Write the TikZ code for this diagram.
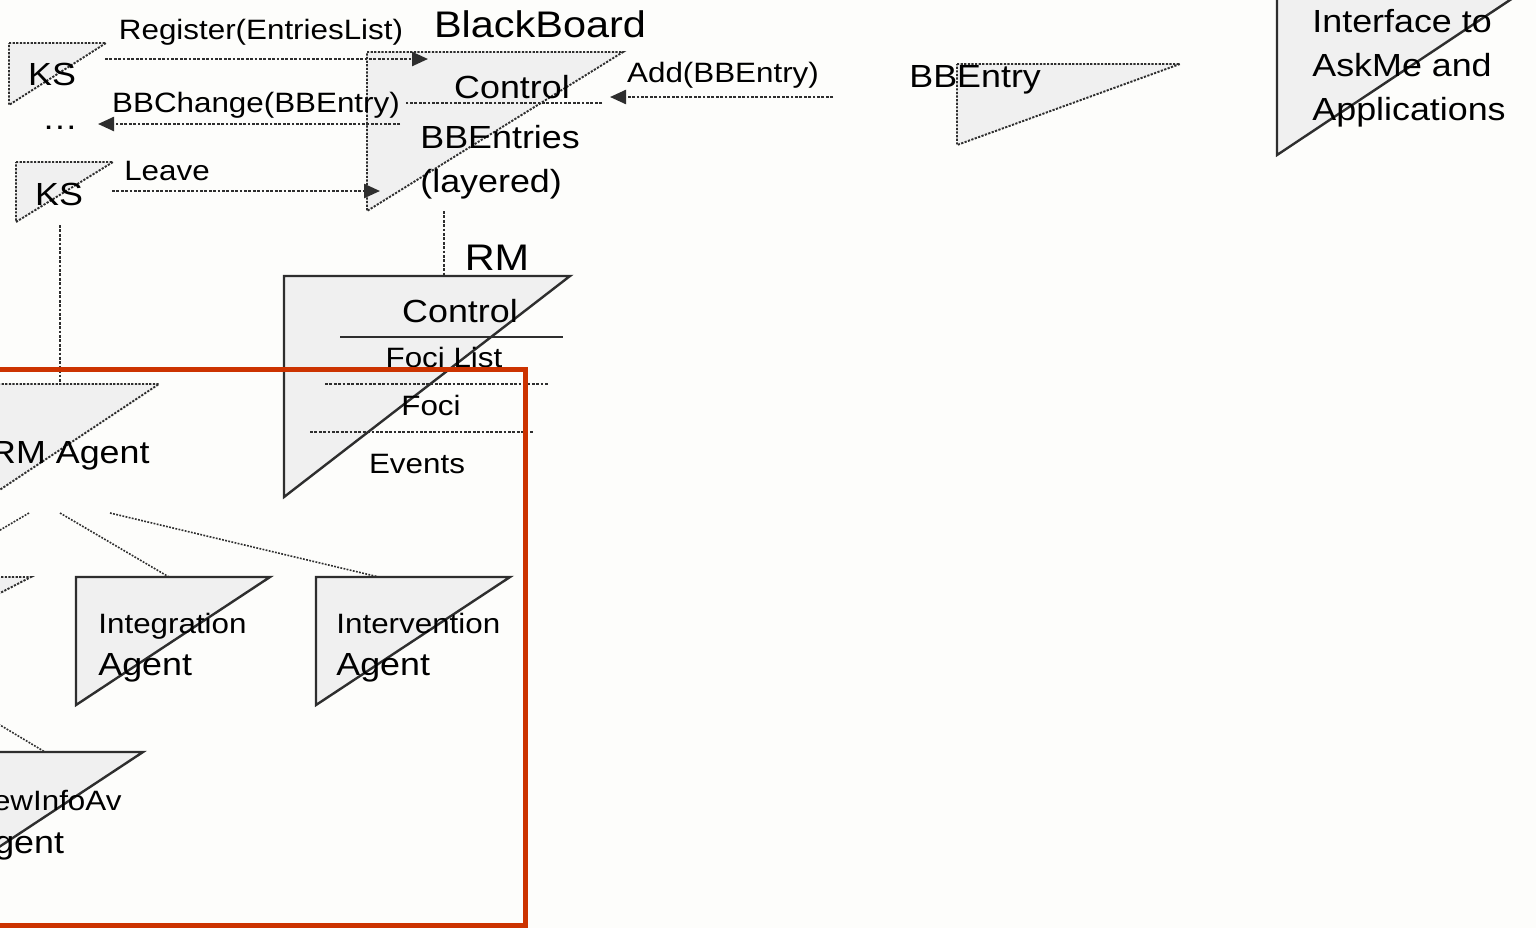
\documentclass[tikz,border=0pt]{standalone}
\usepackage{fontspec}
\setmainfont{Liberation Sans}[FakeStretch=1.12]
\usepackage{tikz}
\usetikzlibrary{positioning,arrows.meta}
\definecolor{BoxGray}{HTML}{F0F0F0}
\definecolor{LineGray}{HTML}{2E2E2E}
\definecolor{FrameRed}{HTML}{CC3300}
\definecolor{PaperWhite}{HTML}{FDFDFB}

\begin{document}
\begin{tikzpicture}[x=0.5pt, y=-0.5pt, >={Triangle[length=8pt,width=7pt]},
                    every node/.style={inner sep=0pt, text=black},
                    lbl/.style={font=\fontsize{14}{17}\selectfont},
                    txt/.style={font=\fontsize{16}{22}\selectfont},
                    ttl/.style={font=\fontsize{18.5}{22}\selectfont},
                    dotbox/.style={draw=LineGray, fill=BoxGray, line width=0.95pt, dash pattern=on 1.1pt off 0.7pt},
                    solbox/.style={draw=LineGray, fill=BoxGray, line width=1.2pt},
                    msg/.style={draw=LineGray, line width=1.2pt, dash pattern=on 1.4pt off 0.8pt},
                    link/.style={draw=LineGray, line width=0.8pt, dash pattern=on 0.9pt off 0.7pt}]
\useasboundingbox (0,0) rectangle (1536,928);
\clip (0,0) rectangle (1536,928);
\fill[PaperWhite] (0,0) rectangle (1536,928);
\foreach \nm/\x/\y/\w/\h in {ks1/9/43/97/62, ks2/16/162/97/60, bb/367/52/256/159,
                              bbe/957/64/223/81, rma/-20/384/179/119, oth/-60/577/91/47}
  \draw[dotbox] (\x,\y) coordinate (\nm) -- ++(\w,0) -- ++(-\w,\h) -- cycle;
\foreach \nm/\x/\y/\w/\h in {rm/284/276/286/221, integ/76/577/194/128, interv/316/577/194/128,
                              newinfo/-51/752/194/128, iface/1277/-10/248/165}
  \draw[solbox] (\x,\y) coordinate (\nm) -- ++(\w,0) -- ++(-\w,\h) -- cycle;
\draw[LineGray, line width=1pt] (340,337) -- (563,337);
\draw[msg] (325,384) -- (548,384);
\draw[msg] (310,432) -- (533,432);
\coordinate (regS) at (105,59);   \coordinate (regE) at (428,59);
\coordinate (chgS) at (602,103);  \coordinate (chgM) at (406,103);
\coordinate (chgN) at (400,124);  \coordinate (chgE) at (98,124);
\coordinate (addS) at (833,97);   \coordinate (addE) at (610,97);
\coordinate (lveS) at (112,191);  \coordinate (lveE) at (380,191);
\coordinate (bbB) at (444,211);   \coordinate (rmT) at (444,276);
\coordinate (ksB) at (60,225);    \coordinate (rmaT) at (60,384);
\coordinate (rmaL) at (29,513);   \coordinate (othT) at (-10,536);
\coordinate (rmaM) at (60,513);   \coordinate (integT) at (169,577);
\coordinate (rmaR) at (110,513);  \coordinate (intervT) at (379,577);
\coordinate (othB) at (-40,701);  \coordinate (newinfoT) at (45,752);
\draw[msg,->] (regS) -- (regE);
\draw[msg] (chgS) -- (chgM);
\draw[msg,->] (chgN) -- (chgE);
\draw[msg,->] (addS) -- (addE);
\draw[msg,->] (lveS) -- (lveE);
\draw[msg] (bbB) -- (rmT);
\draw[msg] (ksB) -- (rmaT);
\draw[link] (rmaL) -- (othT);
\draw[link] (rmaM) -- (integT);
\draw[link] (rmaR) -- (intervT);
\draw[link] (othB) -- (newinfoT);
\node[lbl, anchor=base] (reg) at (261,39) {Register(EntriesList)};
\node[lbl, anchor=base] (chg) at (256,112) {BBChange(BBEntry)};
\node[lbl, anchor=base] (lve) at (167,180) {Leave};
\node[lbl, anchor=base] (add) at (723,82) {Add(BBEntry)};
\node[txt, anchor=base] (ks1t) at (52,85) {KS};
\node[txt, anchor=base] (dots) at (60,129) {…};
\node[txt, anchor=base] (ks2t) at (59,205) {KS};
\node[ttl, anchor=base] (bbt) at (540,37) {BlackBoard};
\node[txt, anchor=base] (bbctl) at (512,98) {Control};
\node[txt, anchor=base west, align=left] (bbent) at (420,192) {BBEntries\\(layered)};
\node[ttl, anchor=base] (rmt) at (497,270) {RM};
\node[txt, anchor=base] (rmctl) at (460,322) {Control};
\node[lbl, anchor=base] (foclst) at (444,367) {Foci List};
\node[lbl, anchor=base] (foci) at (431,415) {Foci};
\node[lbl, anchor=base] (evts) at (417,473) {Events};
\node[txt, anchor=base east] (rmat) at (150,463) {RM Agent};
\node[lbl, anchor=base west] (integt) at (98,633) {Integration};
\node[txt, anchor=base west] (intega) at ([yshift=-21pt]integt.base west) {Agent};
\node[lbl, anchor=base west] (intervt) at (336,633) {Intervention};
\node[txt, anchor=base west] (interva) at ([yshift=-21pt]intervt.base west) {Agent};
\node[lbl, anchor=base west] (newinfot) at (-30,810) {NewInfoAv};
\node[txt, anchor=base west] (newinfoa) at ([yshift=-21.5pt]newinfot.base west) {Agent};
\node[txt, anchor=base west] (bbet) at (909,87) {BBEntry};
\node[txt, anchor=base west, align=left] (ifct) at (1312,120) {Interface to\\AskMe and\\Applications};
\draw[FrameRed, line width=2.5pt] (-20,369) rectangle (525,925);
\end{tikzpicture}
\end{document}
